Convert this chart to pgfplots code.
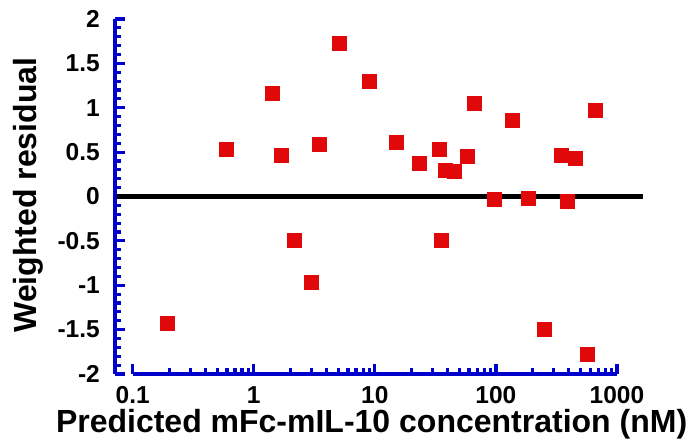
\documentclass[border=0pt]{standalone}
\usepackage{pgfplots}
\pgfplotsset{compat=1.18}
\usepackage{fontspec}
\setmainfont{Liberation Sans}

\definecolor{axisblue}{RGB}{0,0,204}
\definecolor{markred}{RGB}{224,8,8}

\begin{document}
\begin{tikzpicture}
\begin{axis}[
    name=ax,
    scale only axis,
    width=528pt, height=355pt,
    xmode=log, log basis x=10,
    xmin=0.0714, xmax=1640,
    ymin=-2, ymax=2,
    axis lines*=left,
    axis line style={draw=none},
    tick pos=left,
    tick align=inside,
    xtick={0.1,1,10,100,1000},
    xticklabels={0.1,1,10,100,1000},
    minor xtick={0.2,0.3,0.4,0.5,0.6,0.7,0.8,0.9,2,3,4,5,6,7,8,9,20,30,40,50,60,70,80,90,200,300,400,500,600,700,800,900},
    ytick={-2,-1.5,-1,-0.5,0,0.5,1,1.5,2},
    yticklabels={-2,-1.5,-1,-0.5,0,0.5,1,1.5,2},
    minor y tick num=4,
    major tick length=10pt,
    minor tick length=6pt,
    every tick/.append style={draw=axisblue, line width=3.2pt},
    major tick style={draw=axisblue, line width=3.2pt},
    minor tick style={draw=axisblue, line width=3.2pt},
    ticklabel style={font=\bfseries\fontsize{24.5}{26}\selectfont, inner sep=0pt},
    yticklabel style={anchor=east, xshift=-15pt},
    xticklabel style={anchor=north, yshift=-12pt},
    xlabel={Predicted mFc-mIL-10 concentration (nM)},
    ylabel={Weighted residual},
    label style={font=\bfseries\fontsize{32}{34}\selectfont, inner sep=0pt},
    x label style={at={(axis description cs:0.486,-0.1634)}, anchor=base},
    y label style={at={(axis description cs:-0.1496,0.504)}, anchor=base},
    clip=false,
]
% residuals
\addplot[only marks, mark=square*, mark size=7pt, color=markred] coordinates {
    (0.194,-1.43) (0.59,0.53) (1.41,1.16) (1.69,0.47) (2.14,-0.49)
    (2.96,-0.96) (3.49,0.59) (5.03,1.73) (9.04,1.30) (14.9,0.61)
    (23.1,0.38) (33.8,0.53) (35.1,-0.49) (38.3,0.30) (45.0,0.29)
    (57.5,0.45) (65.8,1.05) (97.5,-0.03) (135.5,0.86) (183.6,-0.015)
    (249,-1.50) (344,0.46) (388,-0.05) (450,0.43) (565,-1.78) (655,0.97)
};
% zero line
\addplot[black, line width=5.5pt, forget plot] coordinates {(0.0714,0) (1640,0)};
% Prism-style blue axes
\draw[axisblue, line width=3.5pt] (rel axis cs:0,0) -- (rel axis cs:0,1);
\draw[axisblue, line width=3.5pt] (axis cs:0.1,-2) -- (axis cs:1000,-2);
\end{axis}
\path (ax.south west) ++(-115pt,-71pt) coordinate (bbA);
\path (ax.north east) ++(50pt,19pt) coordinate (bbB);
\pgfresetboundingbox
\path (bbA) rectangle (bbB);
\end{tikzpicture}
\end{document}
